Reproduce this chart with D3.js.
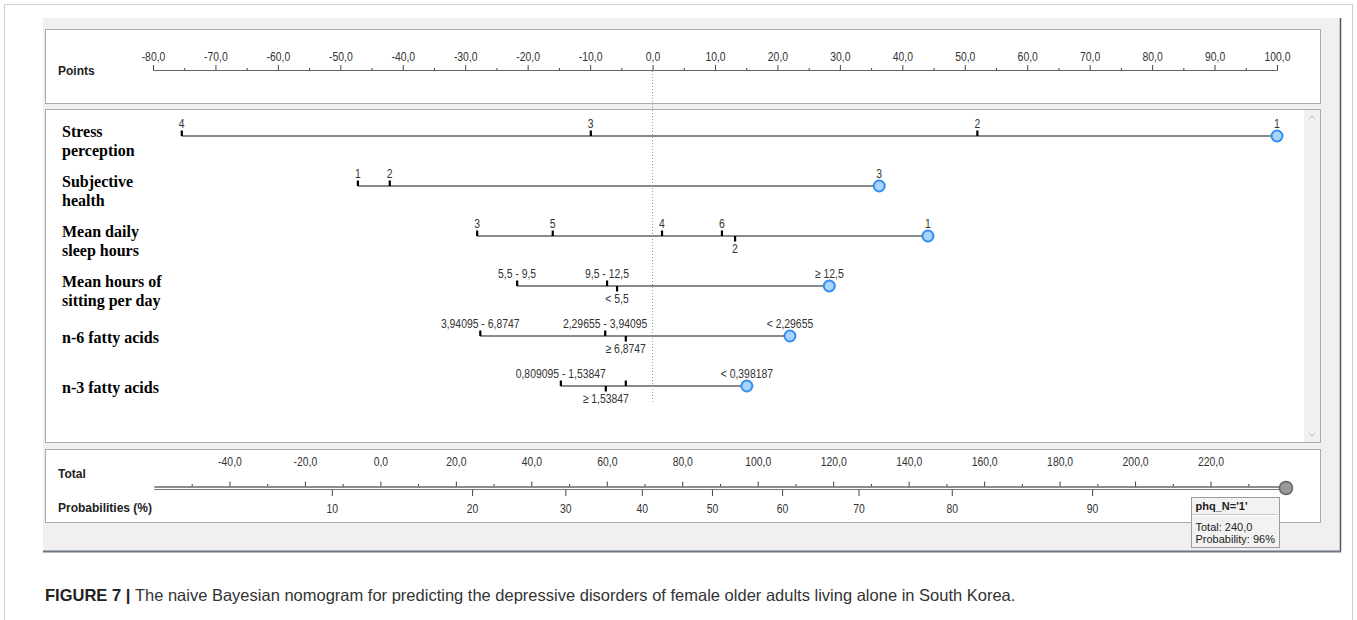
<!DOCTYPE html>
<html lang="en">
<head>
<meta charset="UTF-8">
<title>Naive Bayesian nomogram</title>
<script src="https://d3js.org/d3.v7.min.js"></script>
<style>
  body { margin: 0; background: #fff; }
  .lbl, .tick text { font-family: "Liberation Sans", Arial, sans-serif; font-size: 13px; fill: #333; }
  .var { font-family: "Liberation Serif", "Times New Roman", serif; font-weight: bold; font-size: 16px; fill: #000; }
  .axname { font-family: "Liberation Sans", Arial, sans-serif; font-weight: bold; font-size: 12px; fill: #222; }
  .tip { font-family: "Liberation Sans", Arial, sans-serif; font-size: 11px; fill: #222; }
  .caption { font-family: "Liberation Sans", Arial, sans-serif; font-size: 16.5px; fill: #333; }
</style>
</head>
<body>
<script>
// axis tick labels
const pointTicks = [-80, -70, -60, -50, -40, -30, -20, -10, 0, 10, 20, 30, 40, 50, 60, 70, 80, 90, 100];
const totalTicks = [-40, -20, 0, 20, 40, 60, 80, 100, 120, 140, 160, 180, 200, 220];
const probTicks = [10, 20, 30, 40, 50, 60, 70, 80, 90];

// variables (row labels)
const variables = ["Stress perception", "Subjective health", "Mean daily sleep hours",
  "Mean hours of sitting per day", "n-6 fatty acids", "n-3 fatty acids"];
const varLines = [["Stress", "perception"], ["Subjective", "health"], ["Mean daily", "sleep hours"],
  ["Mean hours of", "sitting per day"], ["n-6 fatty acids"], ["n-3 fatty acids"]];

// categories and their points
const stressCats = ["4", "3", "2", "1"];
const stressPts = [-75.4, -9.9, 52.0, 100.0];
const healthCats = ["1", "2", "3"];
const healthPts = [-47.2, -42.1, 36.3];
const sleepCats = ["3", "5", "4", "6", "2", "1"];
const sleepPts = [-28.1, -16.0, 1.5, 11.1, 13.2, 44.1];
const sittingCats = ["5,5 - 9,5", "9,5 - 12,5", "< 5,5", "≥ 12,5"];
const sittingPts = [-21.7, -7.3, -5.7, 28.3];
const n6Cats = ["3,94095 - 6,8747", "2,29655 - 3,94095", "≥ 6,8747", "< 2,29655"];
const n6Pts = [-27.6, -7.6, -4.3, 22.0];
const n3Cats = ["0,809095 - 1,53847", "≥ 1,53847", "0,398187 - 0,809095", "< 0,398187"];
const n3Pts = [-14.7, -7.5, -4.3, 15.1];

// total points -> probability (logit)
const probAt50 = 88.0;      // total points at 50%
const pointsPerLogit = 45.85;
const totalValue = 240;
const tipLines = ["phq_N='1'", "Total: 240,0", "Probability: 96%"];

const rows = [
  {cats: stressCats, pts: stressPts},
  {cats: healthCats, pts: healthPts},
  {cats: sleepCats, pts: sleepPts},
  {cats: sittingCats, pts: sittingPts},
  {cats: n6Cats, pts: n6Pts},
  {cats: n3Cats, pts: n3Pts}
];

const narrow = 0.8; // the app draws its numbers in a narrow face
const locale = d3.formatLocale({decimal: ",", thousands: ".", grouping: [3], currency: ["", ""], minus: "-"});
const fmt = locale.format(".1f");

const svg = d3.select("body").append("svg")
    .attr("width", 1357)
    .attr("height", 620);

// figure frame and app window
svg.append("rect").attr("x", 4.5).attr("y", 4.5).attr("width", 1348).attr("height", 620)
    .attr("fill", "none").attr("stroke", "#cfcfcf");
svg.append("rect").attr("x", 43).attr("y", 18).attr("width", 1297).attr("height", 533).attr("fill", "#f0f0f0");
svg.append("line").attr("x1", 1340.5).attr("x2", 1340.5).attr("y1", 18).attr("y2", 552)
    .attr("stroke", "#555").attr("stroke-width", 1.5);
svg.append("line").attr("x1", 43).attr("x2", 1341).attr("y1", 551.5).attr("y2", 551.5)
    .attr("stroke", "#6b7480").attr("stroke-width", 2);

// panels
[[29.5, 74], [109.5, 333], [449.5, 73]].forEach(p => {
  svg.append("rect").attr("x", 45.5).attr("y", p[0]).attr("width", 1275).attr("height", p[1])
      .attr("fill", "#fff").attr("stroke", "#a9a9a9");
});
// scrollbar
svg.append("rect").attr("x", 1304).attr("y", 110).attr("width", 16).attr("height", 332).attr("fill", "#f0f0f0");
svg.append("path").attr("d", "M1309,119 L1312,116 L1315,119").attr("fill", "none").attr("stroke", "#b0b0b0");
svg.append("path").attr("d", "M1309,433 L1312,436 L1315,433").attr("fill", "none").attr("stroke", "#b0b0b0");

// scales
const x = d3.scaleLinear().domain([-80, 100]).range([153, 1277]);
const xt = d3.scaleLinear().domain([-60, 240]).range([154, 1286]);
const logit = p => Math.log(p / (1 - p));
const xp = p => xt(probAt50 + pointsPerLogit * logit(p / 100));
const yRow = d3.scalePoint().domain(variables).range([136, 386]);

function styleAxis(g) {
  g.selectAll(".domain").attr("stroke", "#666");
  g.selectAll(".tick line").attr("stroke", "#444");
  g.selectAll(".tick text").attr("fill", "#333").attr("transform", `scale(${narrow},1)`);
}

// Points axis
svg.append("text").attr("class", "axname").attr("x", 58).attr("y", 74.5).text("Points");
svg.append("g").attr("transform", "translate(0,70)")
    .call(d3.axisTop(x).tickValues(pointTicks.slice(1).map(d => d - 5)).tickSize(2).tickSizeOuter(0).tickFormat(""))
    .call(styleAxis);
svg.append("g").attr("transform", "translate(0,70)")
    .call(d3.axisTop(x).tickValues(pointTicks).tickSize(5).tickSizeOuter(0).tickFormat(fmt).tickPadding(4))
    .call(styleAxis);

// variable rows
rows.forEach((r, i) => {
  const y = yRow(variables[i]);
  const g = svg.append("g");
  const lines = varLines[i];
  lines.forEach((t, k) => {
    g.append("text").attr("class", "var").attr("x", 62)
        .attr("y", lines.length === 1 ? y + 7 : y + 1 + k * 19).text(t);
  });
  const items = r.cats.map((c, j) => ({cat: c, v: r.pts[j]})).sort((a, b) => a.v - b.v);
  const lo = items[0].v, hi = items[items.length - 1].v;
  g.append("line").attr("x1", x(lo)).attr("x2", x(hi)).attr("y1", y).attr("y2", y)
      .attr("stroke", "#8a8a8a").attr("stroke-width", 2);
  let lastAbove = -Infinity, lastBelow = -Infinity;
  items.forEach(d => {
    const cx = x(d.v);
    const lg = g.append("g").attr("transform", `translate(${cx},0)`);
    const t = lg.append("text").attr("class", "lbl").attr("text-anchor", "middle")
        .attr("transform", `scale(${narrow},1)`).text(d.cat);
    const w = t.node().getComputedTextLength() * narrow;
    let side = "above";
    if (cx - w / 2 > lastAbove + 8) {
      lastAbove = cx + w / 2;
      t.attr("y", y - 8);
    } else if (cx - w / 2 > lastBelow + 8) {
      lastBelow = cx + w / 2;
      side = "below";
      t.attr("y", y + 17);
    } else {
      t.remove();
    }
    if (d.v !== hi) {
      g.append("rect").attr("x", cx - 1).attr("width", 2.2)
          .attr("y", side === "above" ? y - 5.5 : y).attr("height", 5.5).attr("fill", "#000");
    }
  });
  g.append("circle").attr("cx", x(hi)).attr("cy", y).attr("r", 5.5)
      .attr("fill", "#a9d3fb").attr("stroke", "#2f8ff0").attr("stroke-width", 2);
});

// zero reference line
svg.append("line").attr("x1", x(0)).attr("x2", x(0)).attr("y1", 71).attr("y2", 402)
    .attr("stroke", "#999").attr("stroke-dasharray", "1,2");

// Total / probability axis
svg.append("text").attr("class", "axname").attr("x", 58).attr("y", 477.5).text("Total");
svg.append("text").attr("class", "axname").attr("x", 58).attr("y", 511.5).text("Probabilities (%)");
svg.append("g").attr("transform", "translate(0,486.5)")
    .call(d3.axisTop(xt).tickValues(totalTicks.map(d => d - 10).concat([230])).tickSize(2.5).tickSizeOuter(0).tickFormat(""))
    .call(styleAxis);
svg.append("g").attr("transform", "translate(0,486.5)")
    .call(d3.axisTop(xt).tickValues(totalTicks).tickSize(5).tickSizeOuter(0).tickFormat(fmt).tickPadding(16))
    .call(styleAxis);
svg.append("line").attr("x1", xt(-60)).attr("x2", xt(totalValue)).attr("y1", 489.5).attr("y2", 489.5)
    .attr("stroke", "#777");
const probAxis = svg.append("g").attr("transform", "translate(0,490)");
probAxis.selectAll("line").data(probTicks).join("line")
    .attr("x1", d => xp(d)).attr("x2", d => xp(d)).attr("y1", 0).attr("y2", 6).attr("stroke", "#444");
probAxis.selectAll("g").data(probTicks).join("g")
    .attr("transform", d => `translate(${xp(d)},0)`)
  .append("text").attr("class", "lbl")
    .attr("y", 23).attr("text-anchor", "middle").attr("transform", `scale(${narrow},1)`).text(d => d);

svg.append("circle").attr("cx", xt(totalValue)).attr("cy", 488).attr("r", 6.5)
    .attr("fill", "#9a9a9a").attr("stroke", "#666").attr("stroke-width", 1.5);

// tooltip
const tip = svg.append("g").attr("transform", "translate(1191.5,497.5)");
tip.append("rect").attr("width", 88).attr("height", 50).attr("fill", "#f2f2f2").attr("stroke", "#9c9c9c");
tip.append("line").attr("x1", 1).attr("x2", 87).attr("y1", 17).attr("y2", 17).attr("stroke", "#c8c8c8");
tip.append("line").attr("x1", 1).attr("x2", 87).attr("y1", 18).attr("y2", 18).attr("stroke", "#fff");
tip.append("text").attr("class", "tip").attr("x", 4).attr("y", 12).attr("font-weight", "bold").text(tipLines[0]);
tip.append("text").attr("class", "tip").attr("x", 4).attr("y", 33).text(tipLines[1]);
tip.append("text").attr("class", "tip").attr("x", 4).attr("y", 45).text(tipLines[2]);

// caption
const cap = svg.append("text").attr("class", "caption").attr("x", 45).attr("y", 601);
cap.append("tspan").attr("font-weight", "bold").attr("fill", "#222").text("FIGURE 7 | ");
cap.append("tspan").text("The naive Bayesian nomogram for predicting the depressive disorders of female older adults living alone in South Korea.");
</script>
</body>
</html>
